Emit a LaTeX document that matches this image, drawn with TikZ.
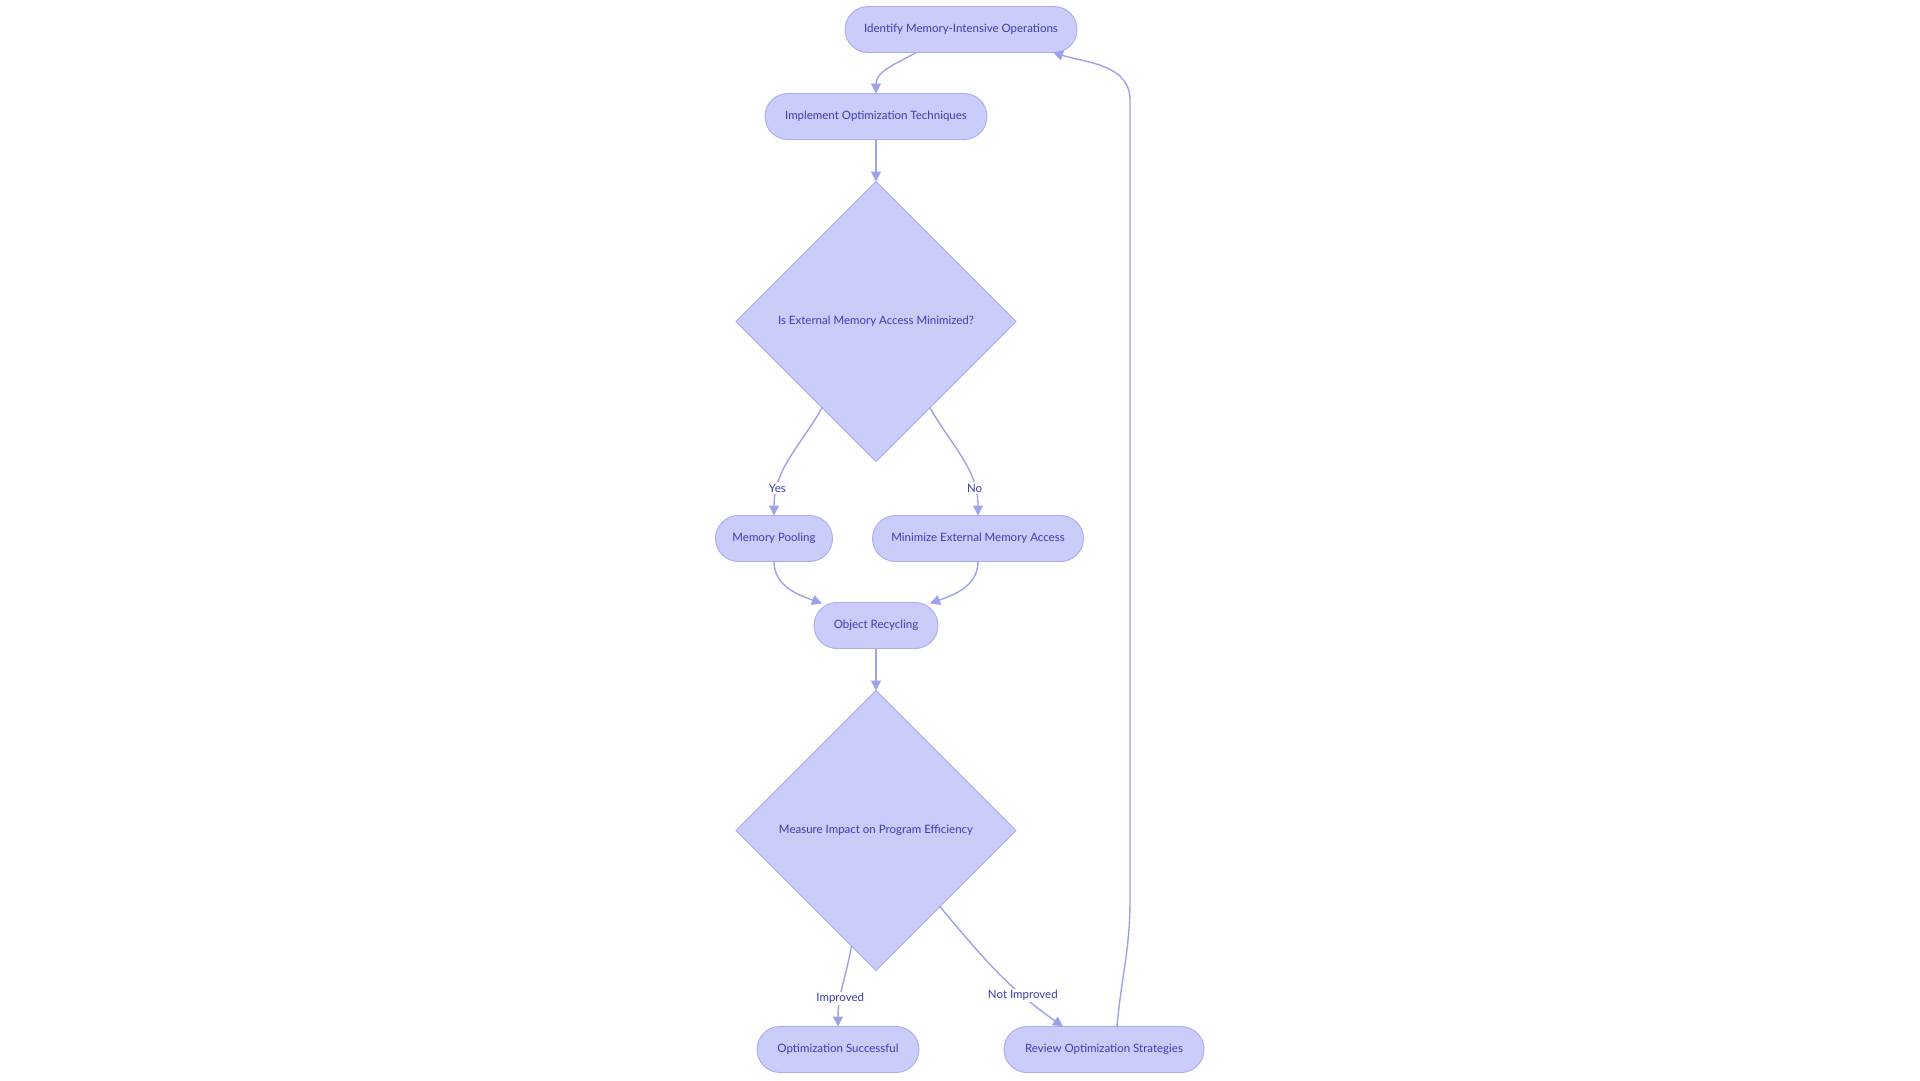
\documentclass[tikz,border=0pt]{standalone}
\usepackage{fontspec}
\setmainfont{Lato}
\usepackage{tikz}
\usetikzlibrary{arrows.meta, positioning, calc, shapes.geometric}
\definecolor{nodefill}{HTML}{CACCFA}
\definecolor{nodeline}{HTML}{A9ACF0}
\definecolor{edgeline}{HTML}{9EA2E8}
\definecolor{labeltext}{HTML}{3B3DB2}
\tikzset{
    pill/.style={rectangle, draw=nodeline, fill=nodefill, line width=0.9pt, rounded corners=23pt, minimum height=46pt, inner sep=0pt, outer sep=0pt, align=center, text=labeltext, font=\fontsize{11.5}{13}\selectfont},
    decision/.style={diamond, aspect=1, draw=nodeline, fill=nodefill, line width=0.9pt, minimum width=280pt, minimum height=280pt, inner sep=0pt, outer sep=0pt, align=center, text=labeltext, font=\fontsize{11.5}{13}\selectfont},
    arrow/.style={-{Triangle[length=10pt, width=10pt]}, line width=1.4pt, draw=edgeline},
    edgelbl/.style={fill=white, inner sep=1.5pt, text=labeltext, font=\fontsize{11.5}{13}\selectfont}
}
\begin{document}
\begin{tikzpicture}[x=1pt, y=1pt]
    \useasboundingbox (0,0) rectangle (1920,-1080);
    \node[pill, minimum width=232pt] (identify) at (961,-29.5) {Identify Memory-Intensive Operations};
    \node[pill, minimum width=222pt, below=41pt of identify, xshift=-85pt] (implement) {Implement Optimization Techniques};
    \node[decision, below=42pt of implement] (extcheck) {Is External Memory Access Minimized?};
    \node[pill, minimum width=117pt, below=54pt of extcheck, xshift=-102pt] (pooling) {Memory Pooling};
    \node[pill, minimum width=211pt, below=54pt of extcheck, xshift=102pt] (minimize) {Minimize External Memory Access};
    \node[pill, minimum width=124pt, below=41pt of pooling, xshift=102pt] (recycle) {Object Recycling};
    \node[decision, below=42pt of recycle] (impact) {Measure Impact on Program Efficiency};
    \node[pill, minimum width=162pt, below=56pt of impact, xshift=-38pt] (success) {Optimization Successful};
    \node[pill, minimum width=200pt, below=56pt of impact, xshift=228pt] (review) {Review Optimization Strategies};
    % loop back corners
    \coordinate (loopbot) at (1130,-900);
    \coordinate (looptop) at (1130,-100);

    \draw[arrow] ([xshift=-45pt]identify.south) to[out=-150, in=90] (implement.north);
    \draw[arrow] (implement) -- (extcheck);
    \draw[arrow] (extcheck.-122) to[out=-120, in=90] node[edgelbl, pos=0.78] {Yes} (pooling.north);
    \draw[arrow] (extcheck.-58) to[out=-60, in=90] node[edgelbl, pos=0.78] {No} (minimize.north);
    \draw[arrow] (pooling.south) to[out=-90, in=160] ([xshift=8pt, yshift=-1pt]recycle.north west);
    \draw[arrow] (minimize.south) to[out=-90, in=20] ([xshift=-8pt, yshift=-1pt]recycle.north east);
    \draw[arrow] (recycle) -- (impact);
    \draw[arrow] (impact.-102) to[out=-100, in=90] node[edgelbl, pos=0.67] {Improved} (success.north);
    \draw[arrow] (impact.-50) to[out=-50, in=145] node[edgelbl, pos=0.72] {Not Improved} ([xshift=-41pt]review.north);
    \draw[arrow] ([xshift=13pt]review.north) to[out=85, in=-90] (loopbot) -- (looptop) to[out=90, in=-17] ([xshift=-24pt]identify.south east);
\end{tikzpicture}
\end{document}
